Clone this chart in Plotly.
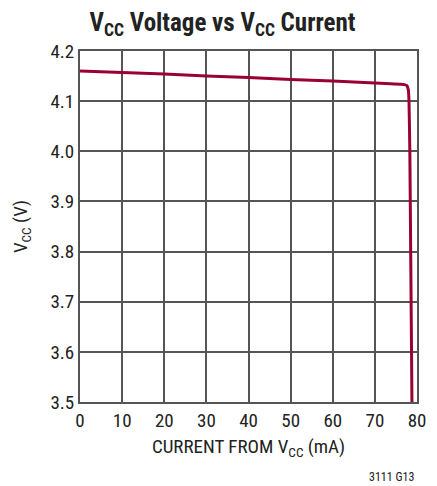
import plotly.graph_objects as go

# Vcc current (mA) vs Vcc voltage (V)
current_ma = [0, 10, 20, 30, 40, 50, 60, 70, 77.0, 77.6, 77.95, 78.1, 78.3, 78.5, 78.8]
vcc_volts = [4.160, 4.157, 4.154, 4.150, 4.147, 4.143, 4.140, 4.136, 4.133, 4.131, 4.122,
             4.100, 4.000, 3.800, 3.500]

x_ticks = [0, 10, 20, 30, 40, 50, 60, 70, 80]
y_ticks = [3.5, 3.6, 3.7, 3.8, 3.9, 4.0, 4.1, 4.2]

FONT = "Liberation Sans Narrow, Roboto Condensed, Arial Narrow, sans-serif"
GRID = "#555555"

fig = go.Figure()
fig.add_trace(
    go.Scatter(
        x=current_ma,
        y=vcc_volts,
        mode="lines",
        line=dict(color="#9b0032", width=3, shape="spline", smoothing=0.4),
        showlegend=False,
    )
)

axis_common = dict(
    showgrid=True,
    gridcolor=GRID,
    gridwidth=1.5,
    showline=True,
    linecolor=GRID,
    linewidth=2,
    mirror=True,
    zeroline=False,
    ticks="",
    tickfont=dict(family=FONT, size=19, color="#222222"),
)

# page body has an 8px margin, so the figure is sized to fit inside the window
fig.update_layout(
    width=429,
    height=478,
    margin=dict(l=65, r=11, t=43, b=84),
    paper_bgcolor="white",
    plot_bgcolor="white",
    font=dict(family=FONT, color="#222222"),
    title=dict(
        text="<b>V<sub>CC</sub> Voltage vs V<sub>CC</sub> Current</b>",
        x=0.5,
        xanchor="center",
        y=0.971,
        yanchor="middle",
        font=dict(family=FONT, size=25, color="#222222"),
    ),
    xaxis=dict(
        axis_common,
        range=[0, 80],
        tickvals=x_ticks,
        title=dict(text="CURRENT FROM V<sub>CC</sub> (mA)", font=dict(family=FONT, size=19), standoff=9),
    ),
    yaxis=dict(
        axis_common,
        range=[3.5, 4.2],
        tickvals=y_ticks,
        tickformat=".1f",
        title=dict(text="V<sub>CC</sub> (V)", font=dict(family=FONT, size=19), standoff=18),
    ),
    annotations=[
        dict(
            text="3111 G13",
            x=0.997,
            y=-0.214,
            xref="paper",
            yref="paper",
            xanchor="right",
            yanchor="middle",
            showarrow=False,
            font=dict(family=FONT, size=12, color="#222222"),
        )
    ],
)

fig.write_html("out.html")
